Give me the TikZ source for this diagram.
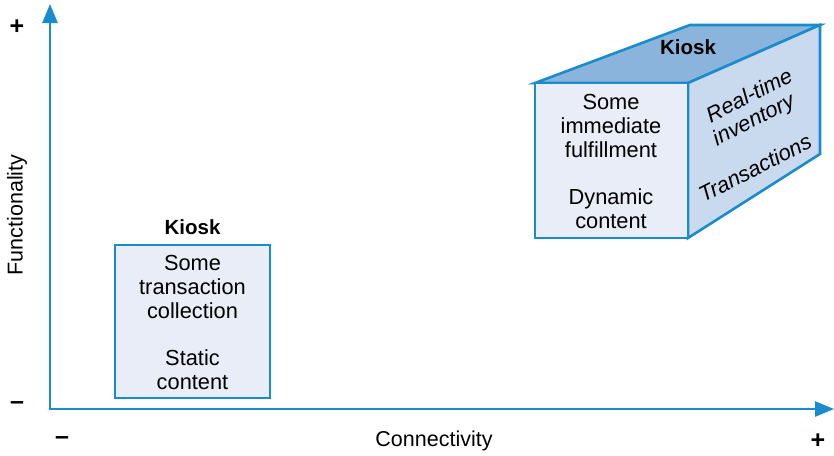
\documentclass[tikz,border=0pt]{standalone}
\usepackage{fontspec}
\setmainfont{Liberation Sans}
\usetikzlibrary{arrows.meta}
\definecolor{axisblue}{HTML}{1A8CCD}
\definecolor{frontfill}{HTML}{E9EDF7}
\definecolor{topfill}{HTML}{8AB4DC}
\definecolor{sidefill}{HTML}{C9D9EE}
\tikzset{
  axis/.style={draw=axisblue, line width=2.6pt, -{Triangle[length=19pt,width=15pt]}},
  face/.style={draw=axisblue, line width=2.6pt, line join=miter},
  body/.style={font=\fontsize{21.8}{23.8}\selectfont, align=center, inner sep=0pt},
  slanted/.style={font=\fontsize{21.8}{23.8}\selectfont\itshape, inner sep=0pt, rotate=27},
  title/.style={font=\fontsize{20.5}{22}\selectfont\bfseries, inner sep=0pt},
  axislabel/.style={font=\fontsize{21.5}{22}\selectfont, inner sep=0pt},
  sign/.style={font=\fontsize{25}{26}\selectfont\bfseries, inner sep=0pt}
}
\begin{document}
\begin{tikzpicture}[x=1pt,y=-1pt]
\useasboundingbox (0,0) rectangle (834,455);

% axes
\coordinate (origin) at (50,409);
\coordinate (ytip) at (50,4);
\coordinate (xtip) at (834,409);
\draw[axis] (origin) -- (ytip);
\draw[axis] ([xshift=-1.3pt]origin) -- (xtip);

\node[sign] (yplus) at (17,27) {+};
\node[sign] (yminus) at (17,406) {–};
\node[sign] (xminus) at (62,441) {–};
\node[sign] (xplus) at (818,441) {+};
\node[axislabel] (xlab) at (434,441) {Connectivity};
\node[axislabel, rotate=90] (ylab) at (17,215) {Functionality};

% basic kiosk: flat box
\node[title] (k1title) at (192.5,227) {Kiosk};
\node[face, fill=frontfill, minimum width=155pt, minimum height=153pt, inner sep=0pt]
  (k1box) at (192.5,321.5) {};
\node[body] (k1top) at (192.5,287) {Some\\transaction\\collection};
\node[body] (k1bot) at (192.5,370) {Static\\content};

% advanced kiosk: box in perspective
\coordinate (A) at (535,83);
\coordinate (B) at (688,83);
\coordinate (C) at (688,238);
\coordinate (D) at (535,238);
\coordinate (E) at (690,25);
\coordinate (F) at (820,25);
\coordinate (G) at (820,154);
\draw[face, fill=topfill] (A) -- (E) -- (F) -- (B) -- cycle;
\draw[face, fill=sidefill] (B) -- (F) -- (G) -- (C) -- cycle;
\draw[face, fill=frontfill] (A) -- (B) -- (C) -- (D) -- cycle;

\node[title] (k2title) at (688,47) {Kiosk};
\node[body] (k2top) at (611,126) {Some\\immediate\\fulfillment};
\node[body] (k2bot) at (611,209) {Dynamic\\content};
\node[slanted] (k2rt) at (749,95) {Real-time};
\node[slanted] (k2inv) at (754,121) {inventory};
\node[slanted] (k2tr) at (755,168) {Transactions};
\end{tikzpicture}
\end{document}
